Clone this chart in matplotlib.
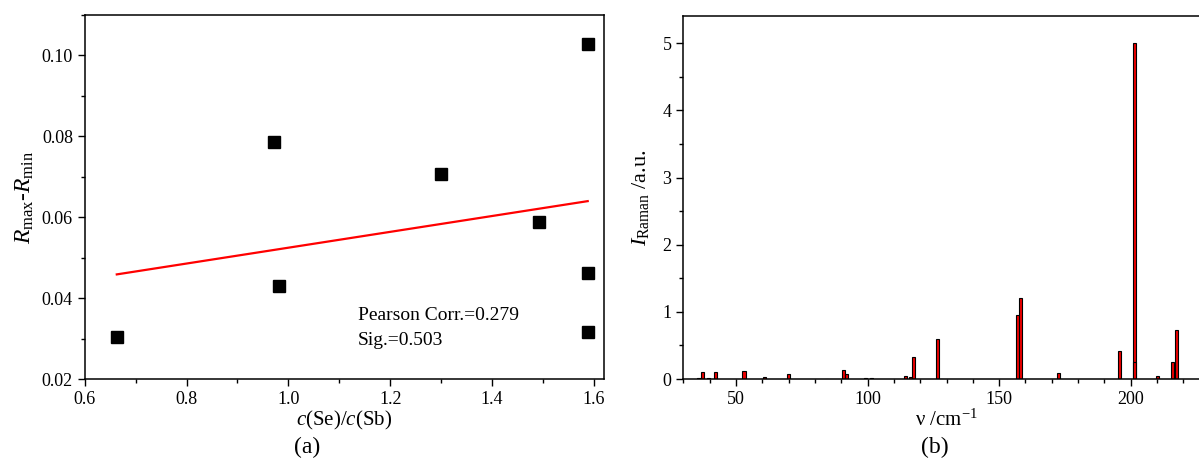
import numpy as np
import matplotlib
matplotlib.use("Agg")
import matplotlib.pyplot as plt
from matplotlib.ticker import MultipleLocator

plt.rcParams['font.family'] = ['Liberation Serif', 'DejaVu Serif']
plt.rcParams['mathtext.fontset'] = 'custom'
plt.rcParams['mathtext.rm'] = 'Liberation Serif'
plt.rcParams['mathtext.it'] = 'Liberation Serif:italic'
plt.rcParams['mathtext.bf'] = 'Liberation Serif:bold'

# ---- panel (a) data ----
ratio_se_sb = [0.663, 0.971, 0.981, 1.299, 1.492, 1.588, 1.588, 1.588]
r_range = [0.0305, 0.0786, 0.0430, 0.0707, 0.0587, 0.1028, 0.0463, 0.0316]
pearson_text = "Pearson Corr.=0.279"
sig_text = "Sig.=0.503"

# ---- panel (b) data ----
wavenumber = [36.0, 37.4, 39.6, 42.3, 53.1, 60.8, 69.9, 84.5, 91.0, 92.0,
              99.2, 101.5, 114.3, 116.5, 117.5, 126.5, 128.0, 157.2, 158.2,
              172.5, 195.7, 201.4, 201.4, 210.2, 215.8, 217.3]
intensity = [0.01, 0.11, 0.015, 0.10, 0.115, 0.035, 0.075, 0.005, 0.13, 0.075,
             0.015, 0.015, 0.04, 0.035, 0.33, 0.60, 0.005, 0.96, 1.20,
             0.085, 0.41, 5.01, 0.25, 0.04, 0.26, 0.73]

W, H = 1199, 468
fig = plt.figure(figsize=(W / 100, H / 100), dpi=100)

def frac(l, t, r, b):
    return [l / W, 1 - b / H, (r - l) / W, (b - t) / H]

# ---------------- panel (a) ----------------
ax1 = fig.add_axes(frac(84.7, 15, 604, 379))
ax1.plot(ratio_se_sb, r_range, 's', color='black', markersize=8)
coef = np.polyfit(ratio_se_sb, r_range, 1)
xf = np.array([min(ratio_se_sb), max(ratio_se_sb)])
ax1.plot(xf, np.polyval(coef, xf), color='#ff0000', lw=1.6)
ax1.set_xlim(0.6, 1.62)
ax1.set_ylim(0.02, 0.11)
ax1.xaxis.set_major_locator(MultipleLocator(0.2))
ax1.xaxis.set_minor_locator(MultipleLocator(0.1))
ax1.yaxis.set_major_locator(MultipleLocator(0.02))
ax1.yaxis.set_minor_locator(MultipleLocator(0.01))
ax1.xaxis.set_major_formatter(matplotlib.ticker.FormatStrFormatter('%.1f'))
ax1.yaxis.set_major_formatter(matplotlib.ticker.FormatStrFormatter('%.2f'))
ax1.text(1.136, 0.0356, pearson_text, fontsize=14, va='center', ha='left')
ax1.text(1.136, 0.0296, sig_text, fontsize=14, va='center', ha='left')
ax1.set_xlabel(r'$c$(Se)/$c$(Sb)', fontsize=15, labelpad=1)
ax1.set_ylabel(r'$R_{\rm max}$-$R_{\rm min}$', fontsize=17, labelpad=4)

# ---------------- panel (b) ----------------
px_per_unit = 2.632
xmin_b, xmax_b = 30, 230
ax2 = fig.add_axes(frac(683.3, 15.7, 683.3 + (xmax_b - xmin_b) * px_per_unit, 379))
ax2.bar(wavenumber, intensity, width=1.25, color='#ee0000', edgecolor='black',
        linewidth=0.8, align='center')
ax2.set_xlim(xmin_b, xmax_b)
ax2.set_ylim(0, 5.41)
ax2.xaxis.set_major_locator(MultipleLocator(50))
ax2.xaxis.set_minor_locator(MultipleLocator(10))
ax2.yaxis.set_major_locator(MultipleLocator(1))
ax2.yaxis.set_minor_locator(MultipleLocator(0.5))
ax2.set_xlabel(r'ν /cm$^{-1}$', fontsize=15, labelpad=1)
ax2.set_ylabel(r'$I_{\rm Raman}$ /a.u.', fontsize=16, labelpad=8)

for ax in (ax1, ax2):
    for s in ax.spines.values():
        s.set_linewidth(1.1)
    ax.tick_params(which='both', direction='out', top=False, right=False,
                   labelsize=13, width=1.0)
    ax.tick_params(which='major', length=5)
    ax.tick_params(which='minor', length=3)

fig.text(307 / W, 1 - 447 / H, '(a)', fontsize=17, ha='center', va='center')
fig.text(935 / W, 1 - 447 / H, '(b)', fontsize=17, ha='center', va='center')

fig.savefig('out.png', dpi=100)
